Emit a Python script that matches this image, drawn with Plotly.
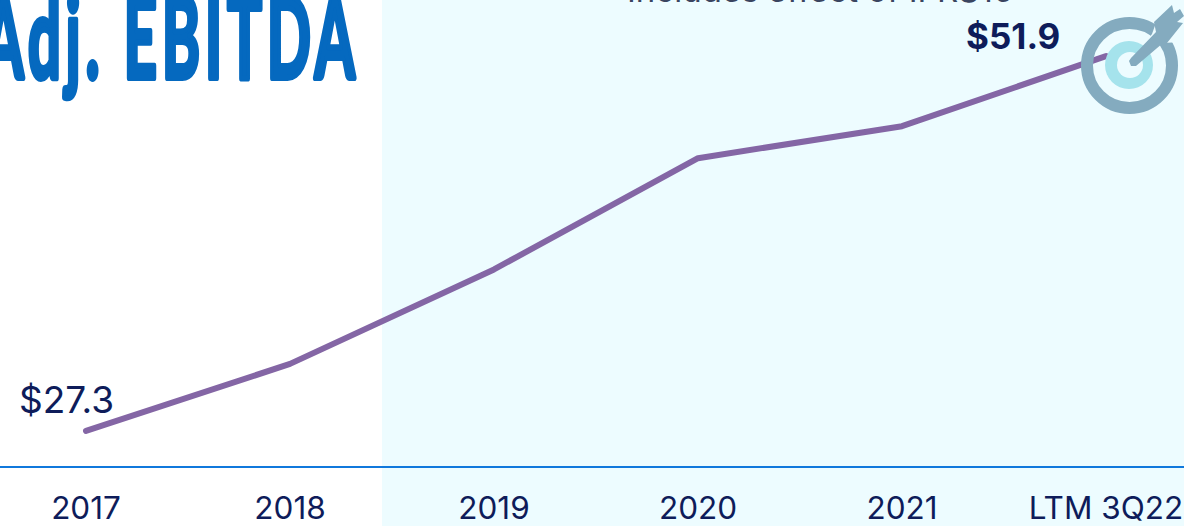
import plotly.graph_objects as go

# Adjusted EBITDA, $ millions
periods = ["2017", "2018", "2019", "2020", "2021", "LTM 3Q22"]
adj_ebitda = [27.3, 31.7, 37.9, 45.2, 47.3, 51.9]

W, H = 1184, 526
PLOT_H = 466
BAND = "#EDFCFF"
RING = "#84ABBF"
CYAN = "#A5E3EC"
NAVY = "#0E1C5A"


def px(x):
    return x / W


def py(y):
    return 1 - y / PLOT_H


def poly(points):
    return "M " + " L ".join(f"{px(x):.5f},{py(y):.5f}" for x, y in points) + " Z"


def disc(cx, cy, r, fill):
    return dict(type="circle", xref="paper", yref="paper", layer="above",
                x0=px(cx - r), x1=px(cx + r), y0=py(cy + r), y1=py(cy - r),
                fillcolor=fill, line_width=0)


def hoop(cx, cy, r, width, color):
    return dict(type="circle", xref="paper", yref="paper", layer="above",
                x0=px(cx - r), x1=px(cx + r), y0=py(cy + r), y1=py(cy - r),
                fillcolor="rgba(0,0,0,0)", line=dict(color=color, width=width))


def patch(points, fill):
    return dict(type="path", xref="paper", yref="paper", layer="above",
                path=poly(points), fillcolor=fill, line_width=0)


fig = go.Figure(go.Scatter(
    x=list(range(len(periods))), y=adj_ebitda, mode="lines",
    line=dict(color="#8466A5", width=6), cliponaxis=False,
    hoverinfo="skip", showlegend=False,
))

shapes = [
    # tinted panel behind the later years
    dict(type="rect", xref="paper", yref="paper", layer="below",
         x0=px(382), x1=1, y0=py(H), y1=1, fillcolor=BAND, line_width=0),
    # target icon: outer ring
    hoop(1129.5, 65.5, 42.5, 12, RING),
    # clearance around the arrow
    patch([(1140, 50), (1152, 34), (1157, 20), (1184, 20), (1184, 42), (1161, 43)], BAND),
    # bullseye
    disc(1129, 65, 24, CYAN),
    disc(1130, 65, 13, BAND),
    # arrow shaft and fletching
    patch([(1129, 61), (1131, 58), (1156, 32), (1154, 22), (1172, 5), (1174, 13), (1180, 9),
           (1184, 16), (1177, 22), (1183, 23), (1167, 43), (1163, 43), (1136, 66), (1131, 66)], RING),
]

annotations = [
    dict(text="<b>Adj. EBITDA</b>", xref="paper", yref="paper", x=px(0), y=py(35),
         xanchor="left", yanchor="middle", showarrow=False,
         font=dict(family="Lato", size=112, color="#0569BF")),
    dict(text="Includes effect of IFRS16", xref="paper", yref="paper", x=px(820), y=py(-10),
         xanchor="center", yanchor="middle", showarrow=False,
         font=dict(family="Inter", size=33, color="#3A4560")),
    dict(text="$27.3", x=0, y=adj_ebitda[0], xref="x", yref="y", xanchor="center",
         yanchor="middle", xshift=-20, yshift=31, showarrow=False,
         font=dict(family="Inter", size=37, color=NAVY)),
    dict(text="<b>$51.9</b>", x=5, y=adj_ebitda[5], xref="x", yref="y", xanchor="center",
         yanchor="middle", xshift=-93, yshift=20, showarrow=False,
         font=dict(family="Inter", size=35, color=NAVY)),
]

fig.update_layout(
    width=W, height=H,
    margin=dict(l=0, r=0, t=0, b=H - PLOT_H, pad=0),
    paper_bgcolor="white", plot_bgcolor="rgba(0,0,0,0)",
    shapes=shapes, annotations=annotations,
    xaxis=dict(
        range=[-86 / 204, (W - 86) / 204], tickmode="array",
        tickvals=list(range(len(periods))), ticktext=periods, ticks="",
        showgrid=False, zeroline=False, showline=True, linecolor="#1078DC", linewidth=2,
        tickfont=dict(family="Inter", size=31.5, color=NAVY), ticklabelstandoff=13,
        automargin=False,
    ),
    yaxis=dict(range=[25.0, 55.58], visible=False, showgrid=False, zeroline=False,
               automargin=False),
)

# Give the heading a heavy, spaced poster look and round the line ends.
restyle = """
var gd = document.querySelector('.js-plotly-plot');
gd.querySelectorAll('.annotation-text').forEach(function (t) {
  if (t.textContent.indexOf('Adj.') === 0) {
    t.style.letterSpacing = '10px';
    t.style.stroke = '#0569BF';
    t.style.strokeWidth = '6px';
    t.style.strokeLinejoin = 'round';
    var box = t.getBoundingClientRect();
    var fromX = -9, toX = 368;
    t.style.transformBox = 'fill-box';
    t.style.transformOrigin = 'left center';
    t.style.transform = 'translateX(' + (fromX - box.left) + 'px) scaleX(' + ((toX - fromX) / box.width) + ')';
  }
});
gd.querySelectorAll('.js-line').forEach(function (l) {
  l.style.strokeLinecap = 'round';
  l.style.strokeLinejoin = 'round';
});
"""

fig.write_html("out.html", config={"displayModeBar": False}, post_script=restyle)
